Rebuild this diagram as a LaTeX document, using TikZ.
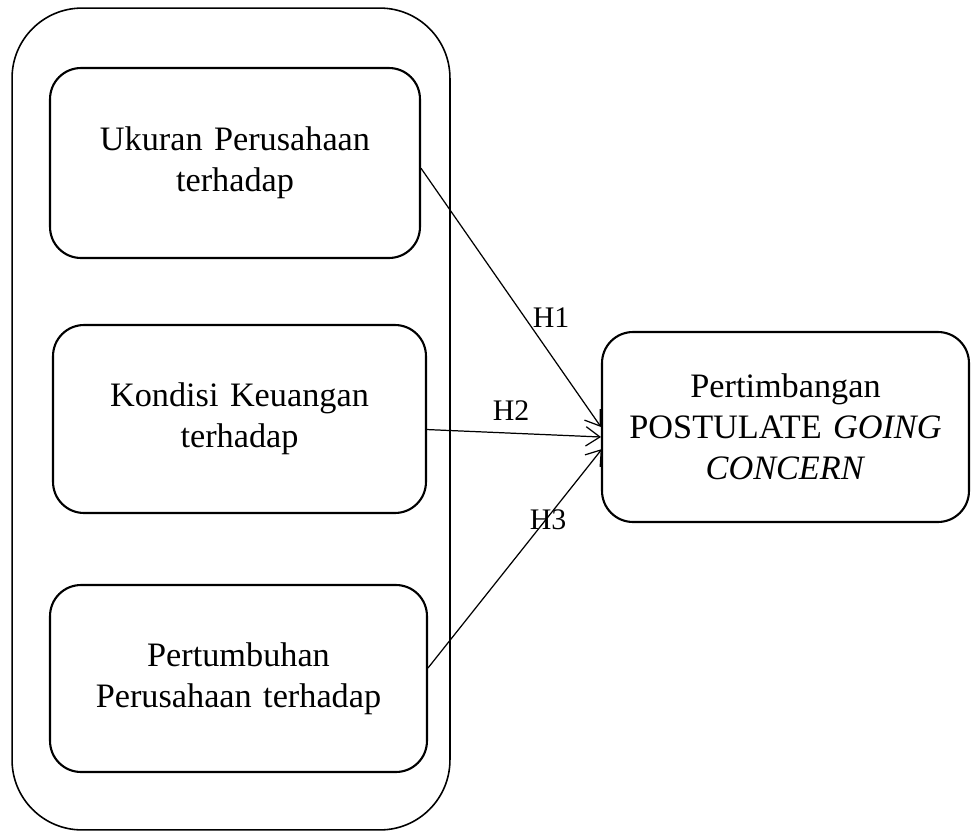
\documentclass[tikz,border=0pt]{standalone}
\usepackage{fontspec}
\setmainfont{Liberation Serif}
\usepackage{tikz}
\usetikzlibrary{
    arrows.meta,
    positioning,
    calc
}
\tikzstyle{outerframe} = [
    rectangle,
    rounded corners=1.4cm,
    draw=black,
    line width=0.9pt,
    minimum width=8.76cm,
    minimum height=16.44cm
]
\tikzstyle{varbox} = [
    rectangle,
    rounded corners=0.62cm,
    draw=black,
    line width=1.2pt,
    text width=7cm,
    align=center,
    font=\fontsize{19.5}{23.4}\selectfont
]
\tikzstyle{hyp} = [
    font=\fontsize{17}{20}\selectfont
]
\tikzstyle{arrow} = [
    -{Straight Barb[length=8pt,width=11pt]},
    line width=0.7pt,
    draw=black
]

\begin{document}
\begin{tikzpicture}[x=0.02cm, y=-0.02cm]
        \useasboundingbox (0,0) rectangle (971,832);

        % Outer frame
        \node[outerframe] (group) at (231,419) {};

        % Independent variables
        \node[varbox, minimum width=7.4cm, minimum height=3.8cm] (size) at (235,163) {Ukuran Perusahaan\\terhadap};
        \node[varbox, minimum width=7.46cm, minimum height=3.76cm] (finance) at (239.5,419) {Kondisi Keuangan\\terhadap};
        \node[varbox, minimum width=7.54cm, minimum height=3.74cm] (growth) at (238.5,678.5) {Pertumbuhan\\Perusahaan terhadap};

        % Dependent variable
        \node[varbox, minimum width=7.34cm, minimum height=3.8cm] (opinion) at (785.5,427) {Pertimbangan\\POSTULATE \textit{GOING}\\\textit{CONCERN}};

        % Arrow tips
        \coordinate (tipb) at (601,437);
        \coordinate (tipc) at (602,449);

        % Arrows
        \draw[arrow] ([yshift=-3]size.east) -- (opinion.west);
        \draw[arrow] ([yshift=-6]finance.east) -- (tipb);
        \draw[arrow] ([yshift=6]growth.east) -- (tipc);

        % Hypotheses
        \node[hyp] (h1) at (551,318) {H1};
        \node[hyp] (h2) at (511,411) {H2};
        \node[hyp] (h3) at (548,520) {H3};
    \end{tikzpicture}
\end{document}
